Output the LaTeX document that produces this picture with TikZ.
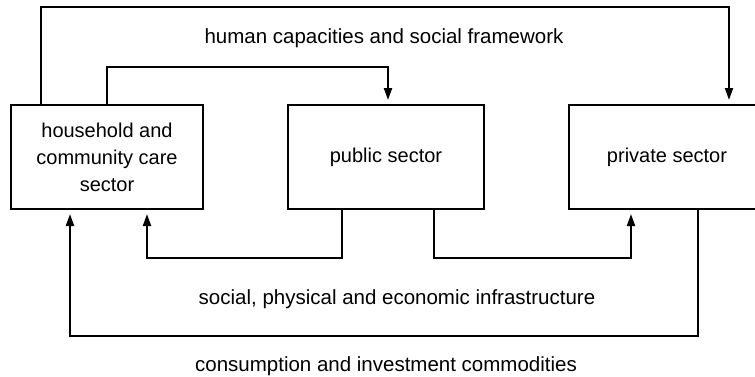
\documentclass[tikz,border=0pt]{standalone}
\usepackage{fontspec}
\setmainfont{Liberation Sans}
\usetikzlibrary{arrows.meta}
\begin{document}
\begin{tikzpicture}[x=1pt,y=1pt,
  box/.style={draw,line width=2pt,minimum width=194pt,minimum height=104pt,inner sep=0pt,align=center,
    font=\fontsize{20}{27}\selectfont},
  lbl/.style={font=\fontsize{20.5}{27}\selectfont,inner sep=0pt},
  arr/.style={line width=2pt,-{Triangle[length=12pt,width=8pt]},shorten >=4pt}]
\useasboundingbox (0,0) rectangle (755,376);
\clip (0,0) rectangle (755,376);
\node[box,minimum width=192pt] (hh) at (107,219) {household and\\community care\\sector};
\node[box,minimum width=196pt] (pub) at (386,219) {public sector};
\node[box,minimum width=196pt] (prv) at (667,219) {private sector};
\draw[arr] ([xshift=-66pt]hh.north) -- ++(0,97) -| ([xshift=62pt]prv.north);
\draw[arr] (hh.north) -- ++(0,37) -| ([xshift=2pt]pub.north);
\draw[arr] ([xshift=-44pt]pub.south) -- ++(0,-48) -| ([xshift=40pt]hh.south);
\draw[arr] ([xshift=48pt]pub.south) -- ++(0,-48) -| ([xshift=-36pt]prv.south);
\draw[arr] ([xshift=31pt]prv.south) -- ++(0,-126) -| ([xshift=-37pt]hh.south);
\node[lbl] (l1) at (384,338) {human capacities and social framework};
\node[lbl] (l2) at (397,77) {social, physical and economic infrastructure};
\node[lbl] (l3) at (386,10) {consumption and investment commodities};
\end{tikzpicture}
\end{document}
